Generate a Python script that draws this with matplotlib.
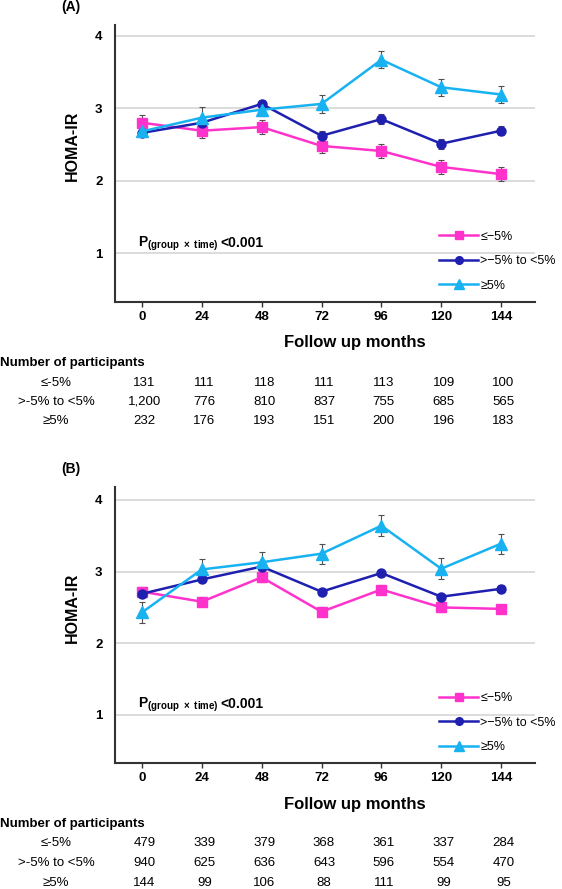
import matplotlib
matplotlib.use('Agg')
import matplotlib.pyplot as plt
import matplotlib.transforms as mtrans

plt.rcParams['font.family'] = ['Liberation Sans', 'DejaVu Sans']
plt.rcParams['mathtext.fontset'] = 'custom'
plt.rcParams['mathtext.rm'] = 'Liberation Sans'
plt.rcParams['mathtext.bf'] = 'Liberation Sans:bold'

months = [0, 24, 48, 72, 96, 120, 144]
legend_labels = ['≤−5%', '>−5% to <5%', '≥5%']
table_labels = ['≤-5%', '>-5% to <5%', '≥5%']

# panel A
a_low = [2.80, 2.69, 2.74, 2.48, 2.41, 2.19, 2.09]
a_low_err = [0.10, 0.10, 0.10, 0.10, 0.10, 0.10, 0.10]
a_mid = [2.66, 2.80, 3.06, 2.62, 2.85, 2.51, 2.69]
a_mid_err = [0.05, 0.05, 0.06, 0.07, 0.07, 0.07, 0.06]
a_high = [2.68, 2.87, 2.98, 3.06, 3.67, 3.29, 3.19]
a_high_err = [0.06, 0.15, 0.09, 0.12, 0.12, 0.12, 0.12]
a_n_low = [131, 111, 118, 111, 113, 109, 100]
a_n_mid = [1200, 776, 810, 837, 755, 685, 565]
a_n_high = [232, 176, 193, 151, 200, 196, 183]

# panel B
b_low = [2.72, 2.58, 2.92, 2.44, 2.75, 2.50, 2.48]
b_low_err = [0.06, 0.06, 0.06, 0.06, 0.06, 0.06, 0.06]
b_mid = [2.69, 2.89, 3.07, 2.72, 2.98, 2.65, 2.76]
b_mid_err = [0.05, 0.04, 0.04, 0.04, 0.04, 0.04, 0.05]
b_high = [2.43, 3.03, 3.13, 3.25, 3.64, 3.04, 3.39]
b_high_err = [0.15, 0.15, 0.15, 0.14, 0.15, 0.15, 0.14]
b_n_low = [479, 339, 379, 368, 361, 337, 284]
b_n_mid = [940, 625, 636, 643, 596, 554, 470]
b_n_high = [144, 99, 106, 88, 111, 99, 95]

colors = ['#FF33CC', '#1F1FB0', '#18B2F0']
markers = ['s', 'o', '^']
msizes = [6.5, 6.5, 8]

W, H = 562.0, 889.0


def draw_panel(fig, top, bottom, tag, series, errs, counts, ylim):
    ax = fig.add_axes([115 / W, 1 - bottom / H, 420 / W, (bottom - top) / H])
    ax.set_xlim(-10.8, 157.6)
    ax.set_ylim(*ylim)
    ax.set_yticks([1, 2, 3, 4])
    ax.set_xticks(months)
    ax.grid(axis='y', color='#D6D6D6', linewidth=1.2)
    ax.set_axisbelow(True)
    for s in ['top', 'right']:
        ax.spines[s].set_visible(False)
    for s in ['left', 'bottom']:
        ax.spines[s].set_color('#333333')
        ax.spines[s].set_linewidth(1.5)
    ax.tick_params(axis='y', length=0, pad=9, labelsize=9.5)
    ax.tick_params(axis='x', length=3.5, width=1, color='#333333', pad=3, labelsize=9.5)
    for lab in ax.get_xticklabels() + ax.get_yticklabels():
        lab.set_fontweight('bold')

    for i in range(3):
        ax.errorbar(months, series[i], yerr=errs[i], fmt='none', ecolor='#505050',
                    elinewidth=0.8, capsize=2.2, capthick=0.8, zorder=3)
        ax.plot(months, series[i], color=colors[i], marker=markers[i], markersize=msizes[i],
                linewidth=1.8, label=legend_labels[i], zorder=4)

    ax.legend(loc='upper left', bbox_to_anchor=(0.772, 0.257), frameon=False, fontsize=9,
              handlelength=3.1, handletextpad=0.2, labelspacing=1.0, borderpad=0,
              borderaxespad=0, numpoints=1, markerscale=0.85)

    ax.text(0.055, 0.20, r'$\mathbf{P}_{\mathbf{(group\ \times\ time)}}$',
            transform=ax.transAxes, fontsize=10, va='baseline', ha='left')
    ax.text(0.25, 0.20, '<0.001', transform=ax.transAxes, fontsize=10,
            fontweight='bold', va='baseline', ha='left')
    ax.text(-0.102, 0.563, 'HOMA-IR', transform=ax.transAxes, rotation=90,
            fontsize=11.5, fontweight='bold', ha='center', va='center')
    ax.text(355 / W, 1 - (bottom + 41) / H, 'Follow up months', transform=fig.transFigure,
            fontsize=12, fontweight='bold', ha='center', va='center')
    fig.text(71 / W, 1 - (top - 18) / H, tag, fontsize=10, fontweight='bold',
             ha='center', va='center')

    # table of participants
    trans = mtrans.blended_transform_factory(ax.transData, fig.transFigure)
    y0 = bottom + 61
    fig.text(0, 1 - y0 / H, 'Number of participants', fontsize=9.5, fontweight='bold',
             ha='left', va='center')
    for r in range(3):
        yy = 1 - (y0 + 19.5 * (r + 1)) / H
        fig.text(56 / W, yy, table_labels[r], fontsize=9.5, ha='center', va='center')
        for m, n in zip(months, counts[r]):
            fig.text(m + 1, yy, format(n, ','), transform=trans, fontsize=9.5,
                     ha='center', va='center')
    return ax


fig = plt.figure(figsize=(5.62, 8.89), dpi=100)
draw_panel(fig, 25, 302, '(A)', [a_low, a_mid, a_high], [a_low_err, a_mid_err, a_high_err],
           [a_n_low, a_n_mid, a_n_high], (0.324, 4.15))
draw_panel(fig, 487, 763, '(B)', [b_low, b_mid, b_high], [b_low_err, b_mid_err, b_high_err],
           [b_n_low, b_n_mid, b_n_high], (0.33, 4.18))
fig.savefig('out.png', dpi=100)
